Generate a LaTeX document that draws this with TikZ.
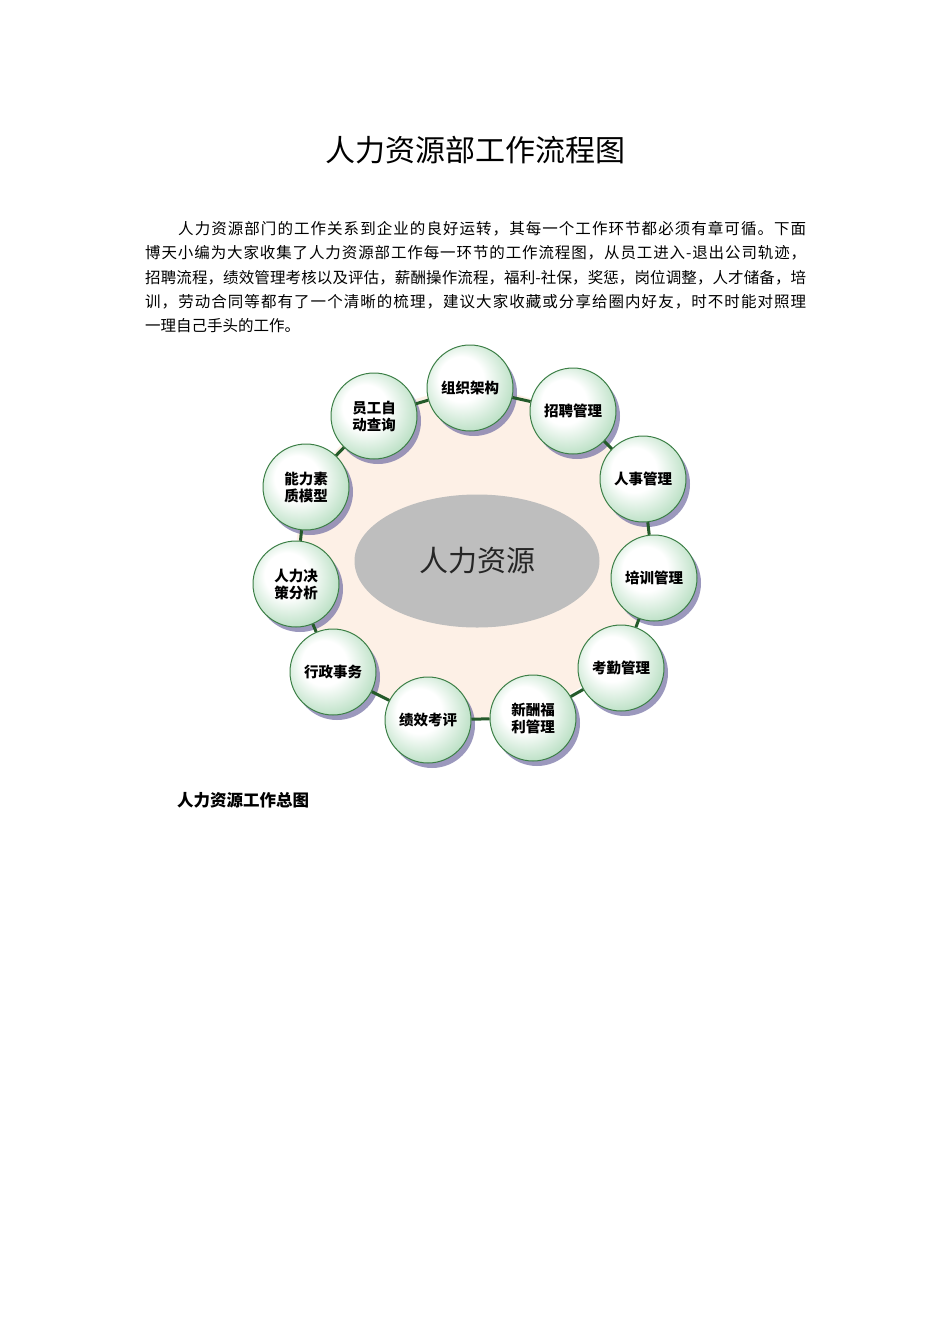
\documentclass[tikz,border=0pt]{standalone}
\usepackage{fontspec}
\setmainfont{Noto Sans CJK SC}
\usetikzlibrary{shapes.geometric,shadows}
\definecolor{peach}{HTML}{FDF0E6}
\definecolor{hubgray}{HTML}{BEBEBE}
\definecolor{mint}{HTML}{A5D6B2}
\definecolor{ringgreen}{HTML}{3C7F46}
\definecolor{linkgreen}{HTML}{245A2A}
\definecolor{shadowgray}{HTML}{7A76A8}
\pgfdeclareradialshading{hrball}{\pgfpoint{-7bp}{7bp}}{color(0bp)=(white); color(13bp)=(white); color(34bp)=(mint); color(50bp)=(mint!70!ringgreen)}
\ExplSyntaxOn
\NewDocumentCommand\spreadline{m m}{\hbox~to~#1{\tl_map_inline:nn {#2} {##1\hskip~0pt~plus~1fil}\unskip}}
\ExplSyntaxOff
\tikzset{
  hrcircle/.style={circle, minimum size=86pt, inner sep=0pt, align=center, draw=ringgreen, line width=1pt,
    shading=hrball,
    drop shadow={shadow xshift=4pt, shadow yshift=-5pt, fill=shadowgray, opacity=0.75},
    font=\fontsize{14.5}{17}\selectfont\bfseries},
  ringlink/.style={draw=linkgreen, line width=3pt},
  bodyline/.style={anchor=base west, inner sep=0pt, font=\fontsize{15.5}{24}\selectfont}
}
\begin{document}
\begin{tikzpicture}[x=1pt,y=-1pt]
\useasboundingbox (0,0) rectangle (950,1344);
\fill[white] (0,0) rectangle (950,1344);
% title and text
\node[font=\fontsize{30}{36}\selectfont] (title) at (475,150) {人力资源部工作流程图};
\node[bodyline] (line1) at (178,234) {\spreadline{628pt}{人力资源部门的工作关系到企业的良好运转，其每一个工作环节都必须有章可循。下面}};
\node[bodyline] (line2) at (145,258) {\spreadline{661pt}{博天小编为大家收集了人力资源部工作每一环节的工作流程图，从员工进入-退出公司轨迹，}};
\node[bodyline] (line3) at (145,283) {\spreadline{661pt}{招聘流程，绩效管理考核以及评估，薪酬操作流程，福利-社保，奖惩，岗位调整，人才储备，培}};
\node[bodyline] (line4) at (145,307) {\spreadline{661pt}{训，劳动合同等都有了一个清晰的梳理，建议大家收藏或分享给圈内好友，时不时能对照理}};
\node[bodyline] (line5) at (145,331) {一理自己手头的工作。};
% ring diagram
\fill[peach] (474,555) ellipse [x radius=178, y radius=165];
\node[ellipse, fill=hubgray, minimum width=245pt, minimum height=133pt, inner sep=0pt,
  text=black!85, font=\fontsize{29}{32}\selectfont] (hub) at (477,561) {人力资源};
\node[hrcircle] (org) at (470,388) {组织架构};
\node[hrcircle] (recruit) at (573,411) {招聘管理};
\node[hrcircle] (personnel) at (643,479) {人事管理};
\node[hrcircle] (training) at (654,578) {培训管理};
\node[hrcircle] (attendance) at (621,668) {考勤管理};
\node[hrcircle] (payroll) at (533,718) {新酬福\\利管理};
\node[hrcircle] (appraisal) at (428,720) {绩效考评};
\node[hrcircle] (admin) at (333,672) {行政事务};
\node[hrcircle] (decision) at (296,584) {人力决\\策分析};
\node[hrcircle] (competency) at (306,487) {能力素\\质模型};
\node[hrcircle] (selfquery) at (374,416) {员工自\\动查询};
\draw[ringlink] (org) -- (recruit);
\draw[ringlink] (recruit) -- (personnel);
\draw[ringlink] (personnel) -- (training);
\draw[ringlink] (training) -- (attendance);
\draw[ringlink] (attendance) -- (payroll);
\draw[ringlink] (payroll) -- (appraisal);
\draw[ringlink] (appraisal) -- (admin);
\draw[ringlink] (admin) -- (decision);
\draw[ringlink] (decision) -- (competency);
\draw[ringlink] (competency) -- (selfquery);
\draw[ringlink] (selfquery) -- (org);
% caption
\node[anchor=west, inner sep=0pt, font=\fontsize{16.5}{20}\selectfont\bfseries] (caption) at (177,800) {人力资源工作总图};
\end{tikzpicture}
\end{document}
